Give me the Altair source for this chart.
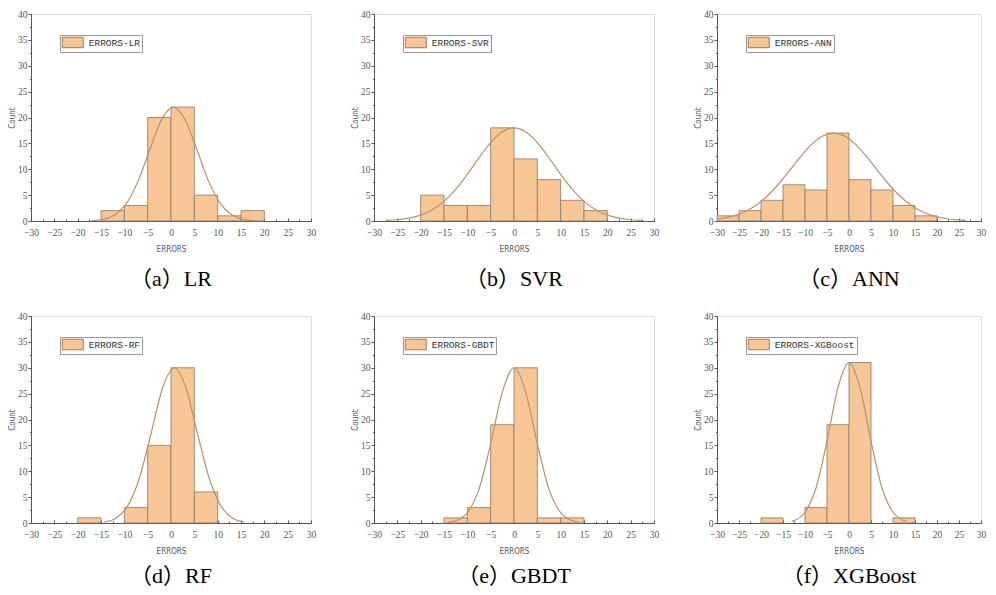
import altair as alt
import pandas as pd

BIN_WIDTH = 5
FILL = "#F8C594"
BAR_STROKE = "#8a7868"
CURVE = "#b8926e"

names = ["LR", "SVR", "ANN", "RF", "GBDT", "XGBoost"]
captions = ["（a）LR", "（b）SVR", "（c）ANN", "（d）RF", "（e）GBDT", "（f）XGBoost"]

# histogram bins (left edges) and counts
lr_bins = [-15, -10, -5, 0, 5, 10, 15]
lr_counts = [2, 3, 20, 22, 5, 1, 2]
svr_bins = [-20, -15, -10, -5, 0, 5, 10, 15]
svr_counts = [5, 3, 3, 18, 12, 8, 4, 2]
ann_bins = [-30, -25, -20, -15, -10, -5, 0, 5, 10, 15]
ann_counts = [1, 2, 4, 7, 6, 17, 8, 6, 3, 1]
rf_bins = [-20, -10, -5, 0, 5]
rf_counts = [1, 3, 15, 30, 6]
gbdt_bins = [-15, -10, -5, 0, 5, 10]
gbdt_counts = [1, 3, 19, 30, 1, 1]
xgb_bins = [-20, -10, -5, 0, 10]
xgb_counts = [1, 3, 19, 31, 1]

# fitted curves
lr_cx = [-17, -14.5, -12, -9.5, -7, -4.5, -2, 0.5, 3, 5.5, 8, 10.5, 13, 15.5, 18]
lr_cy = [0.08, 0.34, 1.22, 3.46, 7.8, 13.9, 19.6, 22, 19.6, 13.9, 7.8, 3.46, 1.22, 0.34, 0.08]
svr_cx = [-27.5, -25, -22.5, -20, -17.5, -15, -12.5, -10, -7.5, -5, -2.5, 0,
          2.5, 5, 7.5, 10, 12.5, 15, 17.5, 20, 22.5, 25, 27.5]
svr_cy = [0.10, 0.24, 0.54, 1.13, 2.16, 3.79, 6.1, 9.0, 12.2, 15.14, 17.24, 18,
          17.24, 15.14, 12.2, 9.0, 6.1, 3.79, 2.16, 1.13, 0.54, 0.24, 0.10]
ann_cx = [-30, -28.5, -26, -23.5, -21, -18.5, -16, -13.5, -11, -8.5, -6, -3.5,
          -1, 1.5, 4, 6.5, 9, 11.5, 14, 16.5, 19, 21.5, 24, 26.5]
ann_cy = [0.35, 0.53, 1.03, 1.85, 3.12, 4.89, 7.15, 9.77, 12.45, 14.8, 16.42, 17,
          16.42, 14.8, 12.45, 9.77, 7.15, 4.89, 3.12, 1.85, 1.03, 0.53, 0.26, 0.12]
rf_cx = [-14.3, -11.8, -9.3, -6.8, -4.3, -1.8, 0.7, 3.2, 5.7, 8.2, 10.7, 13.2, 15.7]
rf_cy = [0.2, 0.94, 3.27, 8.6, 17.2, 26.1, 30, 26.1, 17.2, 8.6, 3.27, 0.94, 0.2]
gbdt_cx = [-14, -12.5, -10, -7.5, -5, -2.5, 0, 2.5, 5, 7.5, 10, 12.5, 14]
gbdt_cy = [0.15, 0.44, 2.0, 6.55, 15.3, 25.3, 30, 25.3, 15.3, 6.55, 2.0, 0.44, 0.15]
xgb_cx = [-13, -12.5, -10, -7.5, -5, -2.5, 0, 2.5, 5, 7.5, 10, 12.5, 13]
xgb_cy = [0.3, 0.45, 2.07, 6.77, 15.8, 26.2, 31, 26.2, 15.8, 6.77, 2.07, 0.45, 0.3]

x_ticks = [-30, -27.5, -25, -22.5, -20, -17.5, -15, -12.5, -10, -7.5, -5, -2.5, 0,
           2.5, 5, 7.5, 10, 12.5, 15, 17.5, 20, 22.5, 25, 27.5, 30]
y_ticks = [0, 2.5, 5, 7.5, 10, 12.5, 15, 17.5, 20, 22.5, 25, 27.5, 30, 32.5, 35, 37.5, 40]

panels_data = [
    (lr_bins, lr_counts, lr_cx, lr_cy),
    (svr_bins, svr_counts, svr_cx, svr_cy),
    (ann_bins, ann_counts, ann_cx, ann_cy),
    (rf_bins, rf_counts, rf_cx, rf_cy),
    (gbdt_bins, gbdt_counts, gbdt_cx, gbdt_cy),
    (xgb_bins, xgb_counts, xgb_cx, xgb_cy),
]
panel_widths = [280, 280, 264, 280, 280, 264]
caption_offsets = [15, 15, 15, 10, 10, 10]

LABEL_FONT = "Liberation Serif"
MAJOR = "datum.value % 5 === 0"


def make_axes():
    xaxis = alt.Axis(
        values=x_ticks,
        labelExpr=f"{MAJOR} ? datum.label : ''",
        title="ERRORS",
        tickSize={"condition": {"test": MAJOR, "value": -3}, "value": -2},
        labelOverlap=False,
        labelFlush=False,
        grid=False,
        labelFont=LABEL_FONT,
        labelFontSize=9.5,
        labelColor="#555555",
        labelPadding=9,
        titleFont="DejaVu Sans Condensed",
        titleFontSize=8,
        titleFontWeight="normal",
        titleColor="#555555",
        titlePadding=8,
        domainColor="#555555",
        tickColor="#555555",
    )
    yaxis = alt.Axis(
        values=y_ticks,
        labelExpr=f"{MAJOR} ? datum.label : ''",
        title="Count",
        tickSize={"condition": {"test": MAJOR, "value": 3}, "value": 1.5},
        labelOverlap=False,
        labelFlush=False,
        grid=False,
        labelFont=LABEL_FONT,
        labelFontSize=9.5,
        labelColor="#555555",
        labelPadding=1,
        titleFont="DejaVu Sans Condensed",
        titleFontSize=8,
        titleFontWeight="normal",
        titleColor="#555555",
        titlePadding=1,
        domainColor="#555555",
        tickColor="#555555",
    )
    return xaxis, yaxis


def panel(name, caption, width, offset, bins, counts, cx, cy):
    bars_df = pd.DataFrame({
        "x0": bins,
        "x1": [b + BIN_WIDTH for b in bins],
        "count": counts,
        "series": ["ERRORS-" + name] * len(bins),
    })
    curve_df = pd.DataFrame({"x": cx, "y": cy})
    xs = alt.Scale(domain=[-30, 30], nice=False, zero=False)
    ys = alt.Scale(domain=[0, 40], nice=False)
    xaxis, yaxis = make_axes()
    bars = alt.Chart(bars_df).mark_rect(stroke=BAR_STROKE, strokeWidth=0.8).encode(
        x=alt.X("x0:Q", scale=xs, axis=xaxis),
        x2="x1:Q",
        y=alt.Y("count:Q", scale=ys, axis=yaxis),
        y2=alt.datum(0),
        color=alt.Color(
            "series:N",
            scale=alt.Scale(range=[FILL]),
            legend=alt.Legend(
                title=None,
                orient="none",
                legendX=29,
                legendY=21,
                strokeColor="#999999",
                fillColor="white",
                padding=1.5,
                symbolType="M-2,-1H2V1H-2Z",
                symbolSize=110,
                symbolOffset=5.25,
                symbolStrokeColor="#9c7a5a",
                symbolStrokeWidth=1,
                symbolOpacity=1,
                labelFont="Liberation Mono",
                labelFontSize=9.5,
                labelColor="#333333",
                labelOffset=10,
                rowPadding=0,
            ),
        ),
    )
    curve = alt.Chart(curve_df).mark_line(
        color=CURVE, strokeWidth=1.2, interpolate="monotone", clip=True
    ).encode(
        x=alt.X("x:Q", scale=xs, axis=xaxis),
        y=alt.Y("y:Q", scale=ys, axis=yaxis),
    )
    return alt.layer(bars, curve).properties(
        width=width,
        height=207,
        title=alt.TitleParams(
            caption,
            orient="bottom",
            frame="group",
            font="Times New Roman, Liberation Serif, Noto Sans CJK SC",
            fontSize=22,
            fontWeight="normal",
            color="#000000",
            offset=offset,
        ),
    )


panels = [
    panel(n, c, w, o, *d)
    for n, c, w, o, d in zip(names, captions, panel_widths, caption_offsets, panels_data)
]

top = alt.hconcat(*panels[:3], spacing=34).resolve_scale(color="independent")
bottom = alt.hconcat(*panels[3:], spacing=34).resolve_scale(color="independent")

chart = alt.vconcat(top, bottom, spacing=20).resolve_scale(color="independent").properties(
    padding={"left": 0, "top": 0, "right": 0, "bottom": 0}
).configure_view(
    stroke="#9a9a9a", strokeWidth=1.5
).configure(background="white")

chart.save("out.html", embed_options={"renderer": "svg", "actions": False})
